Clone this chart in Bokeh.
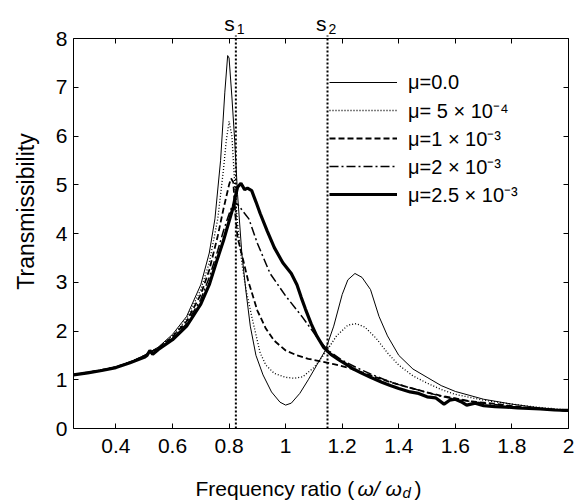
from bokeh.plotting import figure
from bokeh.models import Label, LinearAxis, FixedTicker, Range1d
from bokeh.embed import file_html
from bokeh.resources import INLINE

FONT = "Liberation Sans"

# ---- data ----
x_mu0 = [0.25,0.3,0.35,0.4,0.45,0.5,0.55,0.6,0.65,0.7,0.73,0.75,0.77,0.785,0.795,0.8,0.81,0.82,0.83,0.845,0.86,0.875,0.895,0.92,0.95,0.98,1.0,1.02,1.05,1.08,1.11,1.14,1.17,1.2,1.22,1.245,1.27,1.3,1.33,1.36,1.4,1.45,1.5,1.55,1.6,1.7,1.8,1.9,2.0]
y_mu0 = [1.1,1.15,1.2,1.26,1.36,1.5,1.67,1.93,2.3,2.95,3.6,4.3,5.5,6.9,7.65,7.6,6.8,5.9,4.8,3.6,2.8,2.1,1.5,1.1,0.75,0.54,0.48,0.52,0.72,1.0,1.3,1.6,2.1,2.75,3.05,3.18,3.1,2.85,2.3,1.9,1.5,1.22,1.05,0.88,0.76,0.6,0.5,0.42,0.37]

x_mu1 = [0.25,0.3,0.35,0.4,0.45,0.5,0.55,0.6,0.65,0.7,0.73,0.76,0.78,0.79,0.8,0.81,0.82,0.83,0.845,0.86,0.88,0.9,0.91,0.93,0.96,1.0,1.03,1.06,1.1,1.14,1.18,1.22,1.25,1.28,1.32,1.36,1.4,1.45,1.5,1.55,1.6,1.7,1.8,1.9,2.0]
y_mu1 = [1.1,1.15,1.2,1.26,1.36,1.5,1.66,1.9,2.25,2.85,3.4,4.3,5.3,5.9,6.3,6.0,5.0,4.2,3.4,2.85,2.3,1.8,1.55,1.3,1.13,1.05,1.03,1.06,1.25,1.55,1.9,2.12,2.15,2.08,1.85,1.55,1.3,1.08,0.93,0.8,0.7,0.58,0.5,0.43,0.38]

x_mu2 = [0.25,0.3,0.35,0.4,0.45,0.5,0.55,0.6,0.65,0.7,0.73,0.76,0.78,0.8,0.807,0.815,0.822,0.83,0.85,0.867,0.9,0.93,0.96,1.0,1.04,1.08,1.13,1.17,1.22,1.27,1.32,1.36,1.4,1.45,1.5,1.55,1.6,1.65,1.7,1.75,1.8,1.85,1.9,1.95,2.0]
y_mu2 = [1.1,1.15,1.2,1.26,1.36,1.49,1.65,1.88,2.2,2.75,3.25,3.95,4.5,5.0,5.13,5.05,4.4,3.92,3.45,3.04,2.42,2.05,1.8,1.6,1.5,1.43,1.37,1.32,1.25,1.15,1.05,0.97,0.9,0.82,0.74,0.67,0.62,0.56,0.53,0.5,0.46,0.43,0.41,0.38,0.36]

x_mu3 = [0.25,0.3,0.35,0.4,0.45,0.5,0.55,0.6,0.65,0.7,0.73,0.76,0.78,0.8,0.81,0.82,0.83,0.85,0.87,0.9,0.945,1.0,1.06,1.12,1.15,1.2,1.25,1.3,1.35,1.4,1.45,1.5,1.55,1.6,1.7,1.8,1.9,2.0]
y_mu3 = [1.1,1.15,1.2,1.26,1.36,1.48,1.64,1.85,2.15,2.65,3.1,3.65,4.05,4.4,4.55,4.64,4.6,4.45,4.3,3.8,3.18,2.72,2.28,1.8,1.6,1.4,1.25,1.12,1.0,0.9,0.82,0.74,0.66,0.6,0.52,0.45,0.4,0.36]

x_mu4 = [0.25,0.3,0.35,0.4,0.45,0.5,0.51,0.52,0.53,0.55,0.6,0.65,0.7,0.73,0.76,0.78,0.8,0.815,0.822,0.83,0.842,0.855,0.865,0.88,0.895,0.91,0.935,0.96,0.99,1.02,1.04,1.055,1.07,1.09,1.11,1.135,1.16,1.19,1.21,1.24,1.27,1.3,1.34,1.37,1.4,1.44,1.47,1.5,1.53,1.56,1.58,1.6,1.62,1.64,1.67,1.7,1.74,1.78,1.82,1.86,1.9,1.95,2.0]
y_mu4 = [1.1,1.14,1.19,1.25,1.35,1.46,1.5,1.6,1.52,1.62,1.82,2.1,2.55,2.95,3.5,3.85,4.25,4.55,4.75,4.95,5.03,4.9,4.93,4.88,4.65,4.41,4.05,3.71,3.4,3.18,2.95,2.69,2.45,2.15,1.9,1.66,1.52,1.4,1.33,1.22,1.13,1.05,0.95,0.88,0.82,0.75,0.72,0.65,0.63,0.5,0.58,0.6,0.55,0.48,0.52,0.47,0.45,0.44,0.42,0.41,0.4,0.38,0.37]

series_labels = ["μ=0.0", "μ= 5 × 10⁻⁴", "μ=1 × 10⁻³", "μ=2 × 10⁻³", "μ=2.5 × 10⁻³"]
s_positions = [0.824, 1.148]
s_names = ["1", "2"]
x_ticks = [0.4, 0.6, 0.8, 1.0, 1.2, 1.4, 1.6, 1.8, 2.0]
y_ticks = [0, 1, 2, 3, 4, 5, 6, 7, 8]
X_MIN, X_MAX = 0.25, 2.0
Y_MIN, Y_MAX = 0.0, 8.0

# ---- layout: the frame fills the figure; axes sit at fixed data positions ----
W, H = 585, 502
BOX_L, BOX_R, BOX_T, BOX_B = 73, 568, 38, 428   # pixel box of the data area
kx = (BOX_R - BOX_L) / (X_MAX - X_MIN)
ky = (BOX_B - BOX_T) / (Y_MAX - Y_MIN)
x_range = Range1d(X_MIN - BOX_L / kx, X_MAX + (W - BOX_R) / kx)
y_range = Range1d(Y_MIN - (H - BOX_B) / ky, Y_MAX + BOX_T / ky)

def dx(px):  # page pixel -> data x
    return X_MIN + (px - BOX_L) / kx

def dy(py):  # page pixel -> data y
    return Y_MIN + (BOX_B - py) / ky

p = figure(width=W, height=H, x_range=x_range, y_range=y_range,
           output_backend="svg", toolbar_location=None, min_border=0)
p.xgrid.visible = False
p.ygrid.visible = False
p.outline_line_color = None
p.background_fill_color = "white"
p.border_fill_color = "white"

def style_axis(ax, ticks, loc, bounds, show_labels):
    ax.fixed_location = loc
    ax.bounds = bounds
    ax.ticker = FixedTicker(ticks=ticks)
    ax.major_tick_in = 5
    ax.major_tick_out = 0
    ax.minor_tick_line_color = None
    ax.axis_line_color = "black"
    ax.major_tick_line_color = "black"
    ax.major_label_text_font = FONT
    if show_labels:
        ax.major_label_text_color = "black"
        ax.major_label_text_font_size = "21px"
    else:
        ax.major_label_text_color = None
        ax.major_label_text_font_size = "1px"

style_axis(p.xaxis[0], x_ticks, Y_MIN, (X_MIN, X_MAX), True)
p.xaxis[0].major_label_standoff = 10
p.xaxis[0].major_label_overrides = {1.0: "1", 2.0: "2"}
style_axis(p.yaxis[0], y_ticks, X_MIN, (Y_MIN, Y_MAX), True)
p.yaxis[0].major_label_standoff = 6

top_ax = LinearAxis()
style_axis(top_ax, x_ticks, Y_MAX, (X_MIN, X_MAX), False)
p.add_layout(top_ax, "above")
right_ax = LinearAxis()
style_axis(right_ax, y_ticks, X_MAX, (Y_MIN, Y_MAX), False)
p.add_layout(right_ax, "right")

# ---- curves ----
xs = [x_mu0, x_mu1, x_mu2, x_mu3, x_mu4]
ys = [y_mu0, y_mu1, y_mu2, y_mu3, y_mu4]
widths = [1.0, 1.3, 1.8, 1.5, 3.2]
dashes = ["solid", "1 2", "6 3", "9 3 2 3", "solid"]
for x, y, w, d, lab in zip(xs, ys, widths, dashes, series_labels):
    p.line(x, y, line_color="black", line_width=w, line_dash=d, legend_label=lab)

# ---- s1 / s2 lines ----
for sp, nm in zip(s_positions, s_names):
    p.segment(x0=[sp], y0=[Y_MIN], x1=[sp], y1=[dy(35)], line_color="black",
              line_width=2, line_dash="2 2")
    p.add_layout(Label(x=sp, y=dy(23), text="s", text_align="right", text_baseline="alphabetic",
                       text_font=FONT, text_font_size="21px", text_color="black", x_offset=-1))
    p.add_layout(Label(x=sp, y=dy(28), text=nm, text_align="left", text_baseline="alphabetic",
                       text_font=FONT, text_font_size="14px", text_color="black", x_offset=1))

# ---- axis titles ----
p.add_layout(Label(x=dx(25), y=dy(211), text="Transmissibility", angle=90, angle_units="deg",
                   text_align="center", text_baseline="middle",
                   text_font=FONT, text_font_size="23px", text_color="black"))
p.add_layout(Label(x=dx(195), y=dy(488), text="Frequency ratio (", text_align="left",
                   text_baseline="alphabetic", text_font=FONT, text_font_size="21px", text_color="black"))
p.add_layout(Label(x=dx(357), y=dy(488), text="ω/ ω", text_align="left", text_font_style="italic",
                   text_baseline="alphabetic", text_font=FONT, text_font_size="21px", text_color="black"))
p.add_layout(Label(x=dx(402), y=dy(492), text="d", text_align="left", text_font_style="italic",
                   text_baseline="alphabetic", text_font=FONT, text_font_size="15px", text_color="black"))
p.add_layout(Label(x=dx(414), y=dy(488), text=")", text_align="left",
                   text_baseline="alphabetic", text_font=FONT, text_font_size="21px", text_color="black"))

# ---- legend ----
lg = p.legend[0]
lg.location = (329, H - 208)
lg.label_text_font = FONT
lg.label_text_font_size = "20px"
lg.label_text_color = "black"
lg.glyph_width = 68
lg.glyph_height = 28
lg.label_height = 28
lg.spacing = 0
lg.padding = 4
lg.margin = 0
lg.label_standoff = 11
lg.border_line_color = None
lg.background_fill_alpha = 0

open("out.html", "w").write(file_html(p, INLINE))
